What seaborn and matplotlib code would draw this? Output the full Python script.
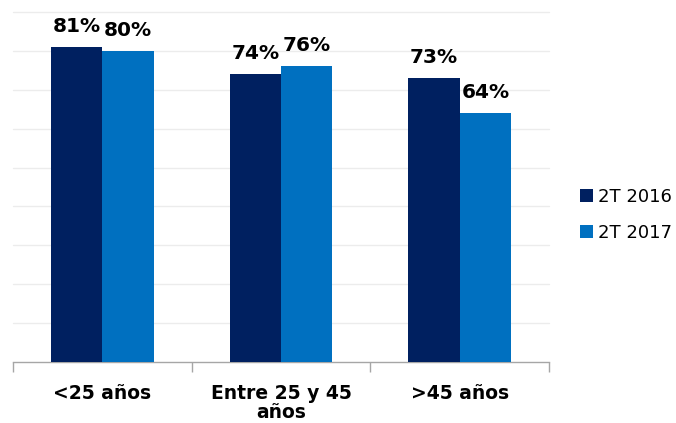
import pandas as pd
import matplotlib
matplotlib.use("Agg")
import matplotlib.pyplot as plt
import seaborn as sns

categories = ["<25 años", "Entre 25 y 45\naños", ">45 años"]
series = ["2T 2016", "2T 2017"]
values_2016 = [81, 74, 73]
values_2017 = [80, 76, 64]

df = pd.DataFrame({
    "grupo": categories * 2,
    "serie": [series[0]] * 3 + [series[1]] * 3,
    "valor": values_2016 + values_2017,
})

sns.set_style("white")
plt.rcParams["font.family"] = ["DejaVu Sans"]

fig = plt.figure(figsize=(6.76, 4.23), dpi=100)
ax = fig.add_axes([13 / 676, 61 / 423, 536 / 676, 350 / 423])

palette = {"2T 2016": "#002060", "2T 2017": "#0070C0"}
sns.barplot(data=df, x="grupo", y="valor", hue="serie", palette=palette,
            width=0.576, saturation=1, linewidth=0, ax=ax, zorder=3)

ax.set_ylim(0, 90)
ax.set_xlim(-0.5, 2.5)
for y in range(10, 91, 10):
    ax.axhline(y, color="#ececec", lw=1, zorder=1, clip_on=False)

for cont in ax.containers:
    ax.bar_label(cont, labels=[f"{int(v)}%" for v in cont.datavalues],
                 padding=8, fontsize=14.5, fontweight="bold", color="#000000")

ax.set_yticks([])
ax.set_xlabel("")
ax.set_ylabel("")
for s in ["left", "top", "right"]:
    ax.spines[s].set_visible(False)
ax.spines["bottom"].set_color("#a6a6a6")
ax.spines["bottom"].set_linewidth(1)
ax.set_xticks([-0.5, 0.5, 1.5, 2.5], minor=True)
ax.tick_params(axis="x", which="minor", length=7, color="#a6a6a6", width=1, direction="out", bottom=True)
ax.tick_params(axis="x", which="major", length=0, pad=16, labelsize=13.5, labelcolor="#000000", bottom=True)
for lbl in ax.get_xticklabels():
    lbl.set_fontweight("bold")
    lbl.set_linespacing(1.0)
    lbl.set_verticalalignment("top")

leg = ax.legend(loc="center left", bbox_to_anchor=(567 / 536, 0.421), frameon=False,
                fontsize=13, handlelength=0.7, handleheight=0.7, handletextpad=0.3,
                labelspacing=1.0, borderaxespad=0, borderpad=0)
for t in leg.get_texts():
    t.set_color("#000000")

fig.savefig("out.png", dpi=100)
